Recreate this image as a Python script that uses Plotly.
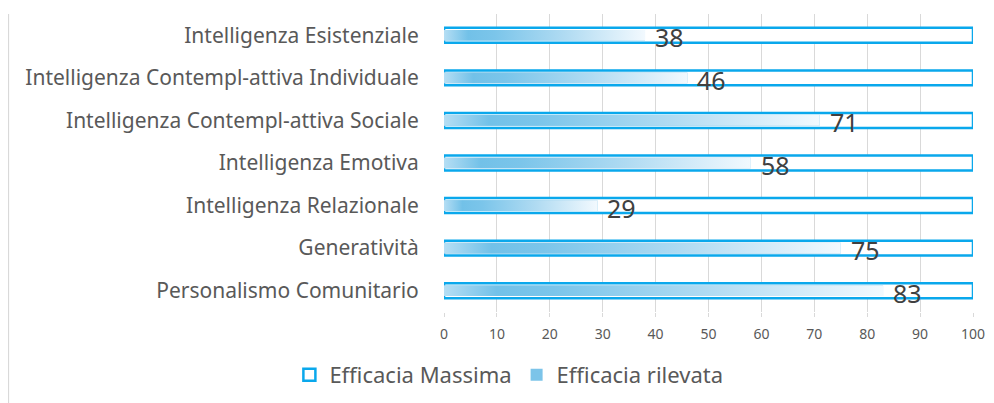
import plotly.graph_objects as go

categories = [
    "Intelligenza Esistenziale",
    "Intelligenza Contempl-attiva Individuale",
    "Intelligenza Contempl-attiva Sociale",
    "Intelligenza Emotiva",
    "Intelligenza Relazionale",
    "Generatività",
    "Personalismo Comunitario",
]
efficacia_massima = [100, 100, 100, 100, 100, 100, 100]
efficacia_rilevata = [38, 46, 71, 58, 29, 75, 83]
x_ticks = [0, 10, 20, 30, 40, 50, 60, 70, 80, 90, 100]

FONT = "Noto Sans"
BLUE = "#0AA8EC"
idx = list(range(len(categories)))
half = 0.125  # half-height of the measured bar (category units)

fig = go.Figure()

fig.add_trace(go.Bar(
    x=efficacia_massima, y=idx, orientation="h", width=0.35,
    name="Efficacia Massima",
    marker=dict(color="white", line=dict(color=BLUE, width=2.5)),
    hoverinfo="x+y",
))

# measured values as bars (legend entry); gradient overlay drawn on top
fig.add_trace(go.Bar(
    x=efficacia_rilevata, y=idx, orientation="h", width=2 * half,
    name="Efficacia rilevata",
    marker=dict(color="#7cc4e9", line=dict(width=0)),
    hoverinfo="x+y",
))

grad = [[0.0, "#b5def4"], [0.12, "#72c1e8"], [0.25, "#7bc5ea"],
        [0.6, "#b0dbf2"], [1.0, "#f2f9fe"]]
for i, v in enumerate(efficacia_rilevata):
    fig.add_trace(go.Scatter(
        x=[0, v, v, 0, 0],
        y=[i - half, i - half, i + half, i + half, i - half],
        mode="none", fill="toself",
        fillgradient=dict(type="horizontal", colorscale=grad),
        showlegend=False, hoverinfo="skip",
    ))

annotations = [
    dict(x=v, y=i, xref="x", yref="y", text=str(v), showarrow=False,
         xanchor="left", yanchor="middle", xshift=8, yshift=-2,
         font=dict(family=FONT, size=25, color="#404040"))
    for i, v in enumerate(efficacia_rilevata)
]

fig.update_layout(
    width=986, height=395,
    margin=dict(l=436, r=21, t=6, b=91),
    paper_bgcolor="white", plot_bgcolor="white",
    barmode="overlay",
    font=dict(family=FONT, color="#595959"),
    xaxis=dict(range=[0, 100], tickvals=x_ticks, showgrid=True,
               gridcolor="#d9d9d9", gridwidth=1, zeroline=False,
               ticks="outside", ticklen=4, tickcolor="#d9d9d9",
               tickfont=dict(size=14, color="#595959"),
               ticklabelstandoff=5, showline=False),
    yaxis=dict(range=[6.5, -0.5], tickvals=idx, ticktext=categories,
               showgrid=False, zeroline=False, showline=False,
               tickfont=dict(size=21, color="#595959"),
               ticks="outside", ticklen=20, tickcolor="rgba(0,0,0,0)"),
    legend=dict(orientation="h", xref="container", yref="container",
                x=0.508, y=0.071, xanchor="center", yanchor="middle",
                font=dict(size=22, color="#595959"),
                itemwidth=30, traceorder="normal"),
    annotations=annotations,
    shapes=[dict(type="line", xref="paper", yref="paper",
                 x0=-0.824, x1=-0.824, y0=1.0, y1=-0.35,
                 line=dict(color="#d9d9d9", width=2))],
)

fig.write_html("out.html")
